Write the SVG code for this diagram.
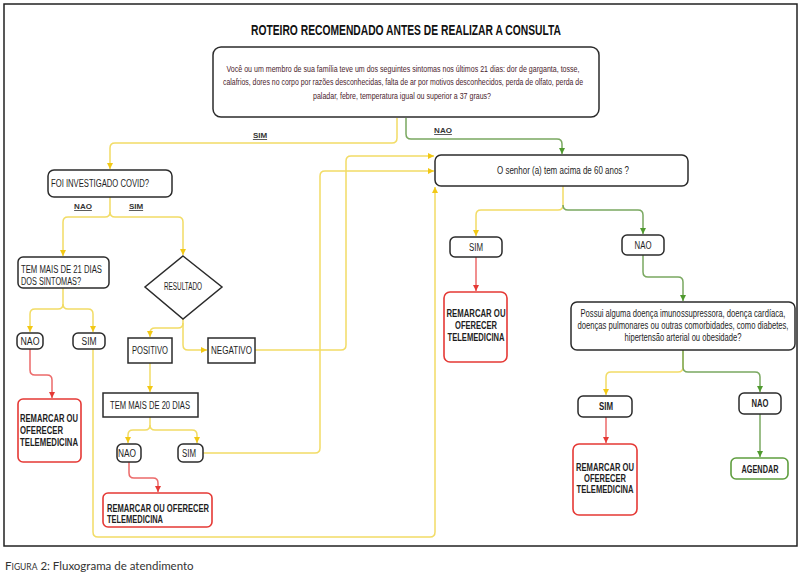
<svg xmlns="http://www.w3.org/2000/svg" width="803" height="576" viewBox="0 0 803 576">
<style>
  .box{fill:#fff;stroke:#2b2b2b;stroke-width:1.5}
  .sq{fill:#fff;stroke:#2b2b2b;stroke-width:1.5}
  .red{fill:#fff;stroke:#e53935;stroke-width:1.6}
  .grn{fill:#fff;stroke:#5f9e3f;stroke-width:1.6}
  .t{font-family:"Liberation Sans",Arial,sans-serif;font-size:10px;fill:#1e1e1e}
  .b{font-weight:bold}
  .c{text-anchor:middle}
  .lbl{font-family:"Liberation Sans",Arial,sans-serif;font-size:8px;font-weight:bold;fill:#333;text-decoration:underline;text-anchor:middle}
  .y{fill:none;stroke:#f2dc66;stroke-width:1.5}
  .g{fill:none;stroke:#7aa860;stroke-width:1.5}
  .r{fill:none;stroke:#ec6a6a;stroke-width:1.5}
  .top{font-family:"Liberation Sans",Arial,sans-serif;font-size:9.5px;fill:#4a1c2c;text-anchor:middle}
</style>
<defs>
  <marker id="ay" markerUnits="userSpaceOnUse" markerWidth="7" markerHeight="7" refX="6" refY="3.5" orient="auto"><path d="M0,0.5 L6,3.5 L0,6.5 z" fill="#f2c814"/></marker>
  <marker id="ag" markerUnits="userSpaceOnUse" markerWidth="7" markerHeight="7" refX="6" refY="3.5" orient="auto"><path d="M0,0.5 L6,3.5 L0,6.5 z" fill="#4f9a2e"/></marker>
  <marker id="ar" markerUnits="userSpaceOnUse" markerWidth="7" markerHeight="7" refX="6" refY="3.5" orient="auto"><path d="M0,0.5 L6,3.5 L0,6.5 z" fill="#e53935"/></marker>
</defs>
<rect x="0" y="0" width="803" height="576" fill="#fff"/>
<rect x="4" y="4" width="793" height="542" fill="none" stroke="#222" stroke-width="1.5"/>
<text x="406" y="35" font-family="'Liberation Sans',Arial,sans-serif" font-size="15" font-weight="bold" fill="#111" text-anchor="middle" textLength="310" lengthAdjust="spacingAndGlyphs">ROTEIRO RECOMENDADO ANTES DE REALIZAR A CONSULTA</text>

<g id="connectors">
  <path class="y" d="M397,118 V138 Q397,143 392,143 H115 Q110,143 110,148 V169" marker-end="url(#ay)"/>
  <path class="g" d="M406,118 V134 Q406,139 411,139 H557 Q562,139 562,144 V154" marker-end="url(#ag)"/>
  <path class="y" d="M110,197 V212 Q110,217 105,217 H68 Q63,217 63,222 V256" marker-end="url(#ay)"/>
  <path class="y" d="M110,212 Q110,217 115,217 H178 Q183,217 183,222 V255" marker-end="url(#ay)"/>
  <path class="y" d="M63,288 V304 Q63,309 58,309 H35 Q30,309 30,314 V332" marker-end="url(#ay)"/>
  <path class="y" d="M63,304 Q63,309 68,309 H88 Q93,309 93,314 V332" marker-end="url(#ay)"/>
  <path class="r" d="M30,349 V370 Q30,375 35,375 H47 Q52,375 52,380 V398" marker-end="url(#ar)"/>
  <path class="y" d="M93,349 V532 Q93,537 98,537 H430 Q435,537 435,532 V187" marker-end="url(#ay)"/>
  <path class="y" d="M183,319 V323 Q183,328 178,328 H155 Q150,328 150,333 V337" marker-end="url(#ay)"/>
  <path class="y" d="M183,323 V345 Q183,350 188,350 H207" marker-end="url(#ay)"/>
  <path class="y" d="M150,363 V392" marker-end="url(#ay)"/>
  <path class="y" d="M150,417 V425 Q150,430 145,430 H133 Q128,430 128,435 V443" marker-end="url(#ay)"/>
  <path class="y" d="M150,425 Q150,430 155,430 H192 Q197,430 197,435 V443" marker-end="url(#ay)"/>
  <path class="r" d="M129,462 V473 Q129,478 134,478 H153 Q158,478 158,483 V492" marker-end="url(#ar)"/>
  <path class="y" d="M203,453 H315 Q320,453 320,448 V176 Q320,171 325,171 H434" marker-end="url(#ay)"/>
  <path class="y" d="M255,350 H341 Q346,350 346,345 V161 Q346,156 351,156 H434" marker-end="url(#ay)"/>
  <path class="y" d="M563,186 V205 Q563,210 558,210 H481 Q476,210 476,215 V236" marker-end="url(#ay)"/>
  <path class="g" d="M563,205 Q563,210 568,210 H638 Q643,210 643,215 V234" marker-end="url(#ag)"/>
  <path class="r" d="M476,257 V291" marker-end="url(#ar)"/>
  <path class="g" d="M643,255 V272 Q643,277 648,277 H678 Q683,277 683,282 V301" marker-end="url(#ag)"/>
  <path class="y" d="M683,350 V367 Q683,372 678,372 H611 Q606,372 606,377 V395" marker-end="url(#ay)"/>
  <path class="g" d="M683,350 V367 Q683,372 688,372 H755 Q760,372 760,377 V392" marker-end="url(#ag)"/>
  <path class="r" d="M606,417 V443" marker-end="url(#ar)"/>
  <path class="g" d="M760,414 V457" marker-end="url(#ag)"/>
  <text class="lbl" x="260" y="138">SIM</text>
  <text class="lbl" x="443" y="133">NAO</text>
  <text class="lbl" x="83" y="209">NAO</text>
  <text class="lbl" x="136" y="209">SIM</text>
</g>

<g id="n-sintomas">
  <rect class="box" x="213" y="47" width="386" height="70" rx="8"/>
  <text class="top" x="403" y="71.5" textLength="353" lengthAdjust="spacingAndGlyphs">Você ou um membro de sua família teve um dos seguintes sintomas nos últimos 21 dias: dor de garganta, tosse,</text>
  <text class="top" x="403" y="85" textLength="360" lengthAdjust="spacingAndGlyphs">calafrios, dores no corpo por razões desconhecidas, falta de ar por motivos desconhecidos, perda de olfato, perda de</text>
  <text class="top" x="402" y="98.5" textLength="178" lengthAdjust="spacingAndGlyphs">paladar, febre, temperatura igual ou superior a 37 graus?</text>
</g>
<g id="n-60anos">
  <rect class="box" x="435" y="155" width="253" height="31" rx="6"/>
  <text class="t c" x="563" y="173.5" textLength="132" lengthAdjust="spacingAndGlyphs">O senhor (a) tem acima de 60 anos ?</text>
</g>
<g id="n-covid">
  <rect class="box" x="48" y="170" width="124" height="27" rx="6"/>
  <text class="t" x="51" y="187" textLength="98" lengthAdjust="spacingAndGlyphs">FOI INVESTIGADO COVID?</text>
</g>
<g id="n-21dias">
  <rect class="box" x="18" y="257" width="91" height="31" rx="5"/>
  <text class="t" x="21" y="273" textLength="81" lengthAdjust="spacingAndGlyphs">TEM MAIS DE 21 DIAS</text>
  <text class="t" x="21" y="284.5" textLength="60" lengthAdjust="spacingAndGlyphs">DOS SINTOMAS?</text>
</g>
<g id="n-nao1">
  <rect class="box" x="17" y="333" width="26" height="16" rx="5"/>
  <text class="t c" x="30" y="344.5" textLength="19" lengthAdjust="spacingAndGlyphs">NAO</text>
</g>
<g id="n-sim1">
  <rect class="box" x="73" y="333" width="32" height="16" rx="5"/>
  <text class="t c" x="89" y="344.5" textLength="15" lengthAdjust="spacingAndGlyphs">SIM</text>
</g>
<g id="n-remarcar1">
  <rect class="red" x="18" y="399" width="63" height="63" rx="5"/>
  <text class="t b" x="20" y="421.5" textLength="58" lengthAdjust="spacingAndGlyphs">REMARCAR OU</text>
  <text class="t b" x="20" y="433.5" textLength="43" lengthAdjust="spacingAndGlyphs">OFERECER</text>
  <text class="t b" x="20" y="445.5" textLength="58" lengthAdjust="spacingAndGlyphs">TELEMEDICINA</text>
</g>
<g id="n-resultado">
  <polygon points="183,256 222,287 183,319 145,287" fill="#fff" stroke="#2b2b2b" stroke-width="1.5"/>
  <text class="t c" x="183" y="289.5" font-size="7.5" textLength="38" lengthAdjust="spacingAndGlyphs">RESULTADO</text>
</g>
<g id="n-positivo">
  <rect class="sq" x="128" y="338" width="44" height="25"/>
  <text class="t c" x="150" y="353.5" textLength="36" lengthAdjust="spacingAndGlyphs">POSITIVO</text>
</g>
<g id="n-negativo">
  <rect class="sq" x="208" y="338" width="47" height="25"/>
  <text class="t c" x="231.5" y="353.5" textLength="41" lengthAdjust="spacingAndGlyphs">NEGATIVO</text>
</g>
<g id="n-20dias">
  <rect class="sq" x="103" y="393" width="95" height="24"/>
  <text class="t c" x="150" y="408.5" textLength="80" lengthAdjust="spacingAndGlyphs">TEM MAIS DE 20 DIAS</text>
</g>
<g id="n-nao2">
  <rect class="box" x="117" y="444" width="24" height="18" rx="5"/>
  <text class="t c" x="127" y="456.5" textLength="18" lengthAdjust="spacingAndGlyphs">NAO</text>
</g>
<g id="n-sim2">
  <rect class="box" x="178" y="444" width="25" height="18" rx="5"/>
  <text class="t c" x="189" y="456.5" textLength="14" lengthAdjust="spacingAndGlyphs">SIM</text>
</g>
<g id="n-remarcar2">
  <rect class="red" x="103" y="493" width="109" height="34" rx="5"/>
  <text class="t b" x="107" y="511.5" textLength="102" lengthAdjust="spacingAndGlyphs">REMARCAR OU OFERECER</text>
  <text class="t b" x="107" y="522.5" textLength="56" lengthAdjust="spacingAndGlyphs">TELEMEDICINA</text>
</g>
<g id="n-sim3">
  <rect class="box" x="450" y="237" width="52" height="20" rx="5"/>
  <text class="t c" x="476" y="250.5" textLength="14" lengthAdjust="spacingAndGlyphs">SIM</text>
</g>
<g id="n-nao3">
  <rect class="box" x="622" y="235" width="42" height="20" rx="5"/>
  <text class="t c" x="643" y="248.5" textLength="17" lengthAdjust="spacingAndGlyphs">NAO</text>
</g>
<g id="n-remarcar3">
  <rect class="red" x="444" y="292" width="63" height="70" rx="6"/>
  <text class="t b c" x="476" y="316.5" textLength="59" lengthAdjust="spacingAndGlyphs">REMARCAR OU</text>
  <text class="t b c" x="476" y="328.5" textLength="42" lengthAdjust="spacingAndGlyphs">OFERECER</text>
  <text class="t b c" x="476" y="340.5" textLength="57" lengthAdjust="spacingAndGlyphs">TELEMEDICINA</text>
</g>
<g id="n-comorbidades">
  <rect class="box" x="571" y="302" width="224" height="48" rx="6"/>
  <text class="t c" x="683" y="316.5" font-size="8.5" textLength="205" lengthAdjust="spacingAndGlyphs">Possui alguma doença imunossupressora, doença cardíaca,</text>
  <text class="t c" x="683" y="328.5" font-size="8.5" textLength="211" lengthAdjust="spacingAndGlyphs">doenças pulmonares ou outras comorbidades, como diabetes,</text>
  <text class="t c" x="683" y="340.5" font-size="8.5" textLength="117" lengthAdjust="spacingAndGlyphs">hipertensão arterial ou obesidade?</text>
</g>
<g id="n-sim4">
  <rect class="box" x="578" y="396" width="54" height="21" rx="5"/>
  <text class="t b c" x="606" y="410" textLength="14" lengthAdjust="spacingAndGlyphs">SIM</text>
</g>
<g id="n-nao4">
  <rect class="box" x="739" y="393" width="42" height="21" rx="5"/>
  <text class="t b c" x="760" y="407" textLength="17" lengthAdjust="spacingAndGlyphs">NAO</text>
</g>
<g id="n-remarcar4">
  <rect class="red" x="573" y="444" width="64" height="71" rx="6"/>
  <text class="t b c" x="605" y="470.5" textLength="58" lengthAdjust="spacingAndGlyphs">REMARCAR OU</text>
  <text class="t b c" x="605" y="481.5" textLength="42" lengthAdjust="spacingAndGlyphs">OFERECER</text>
  <text class="t b c" x="605" y="492.5" textLength="57" lengthAdjust="spacingAndGlyphs">TELEMEDICINA</text>
</g>
<g id="n-agendar">
  <rect class="grn" x="731" y="458" width="57" height="21" rx="5"/>
  <text class="t b c" x="760" y="473" textLength="37" lengthAdjust="spacingAndGlyphs">AGENDAR</text>
</g>

<text x="5" y="570" font-family="Lato,'Open Sans',sans-serif" font-size="11.5" fill="#333">F<tspan font-size="8.5">IGURA</tspan> 2: Fluxograma de atendimento</text>
</svg>
